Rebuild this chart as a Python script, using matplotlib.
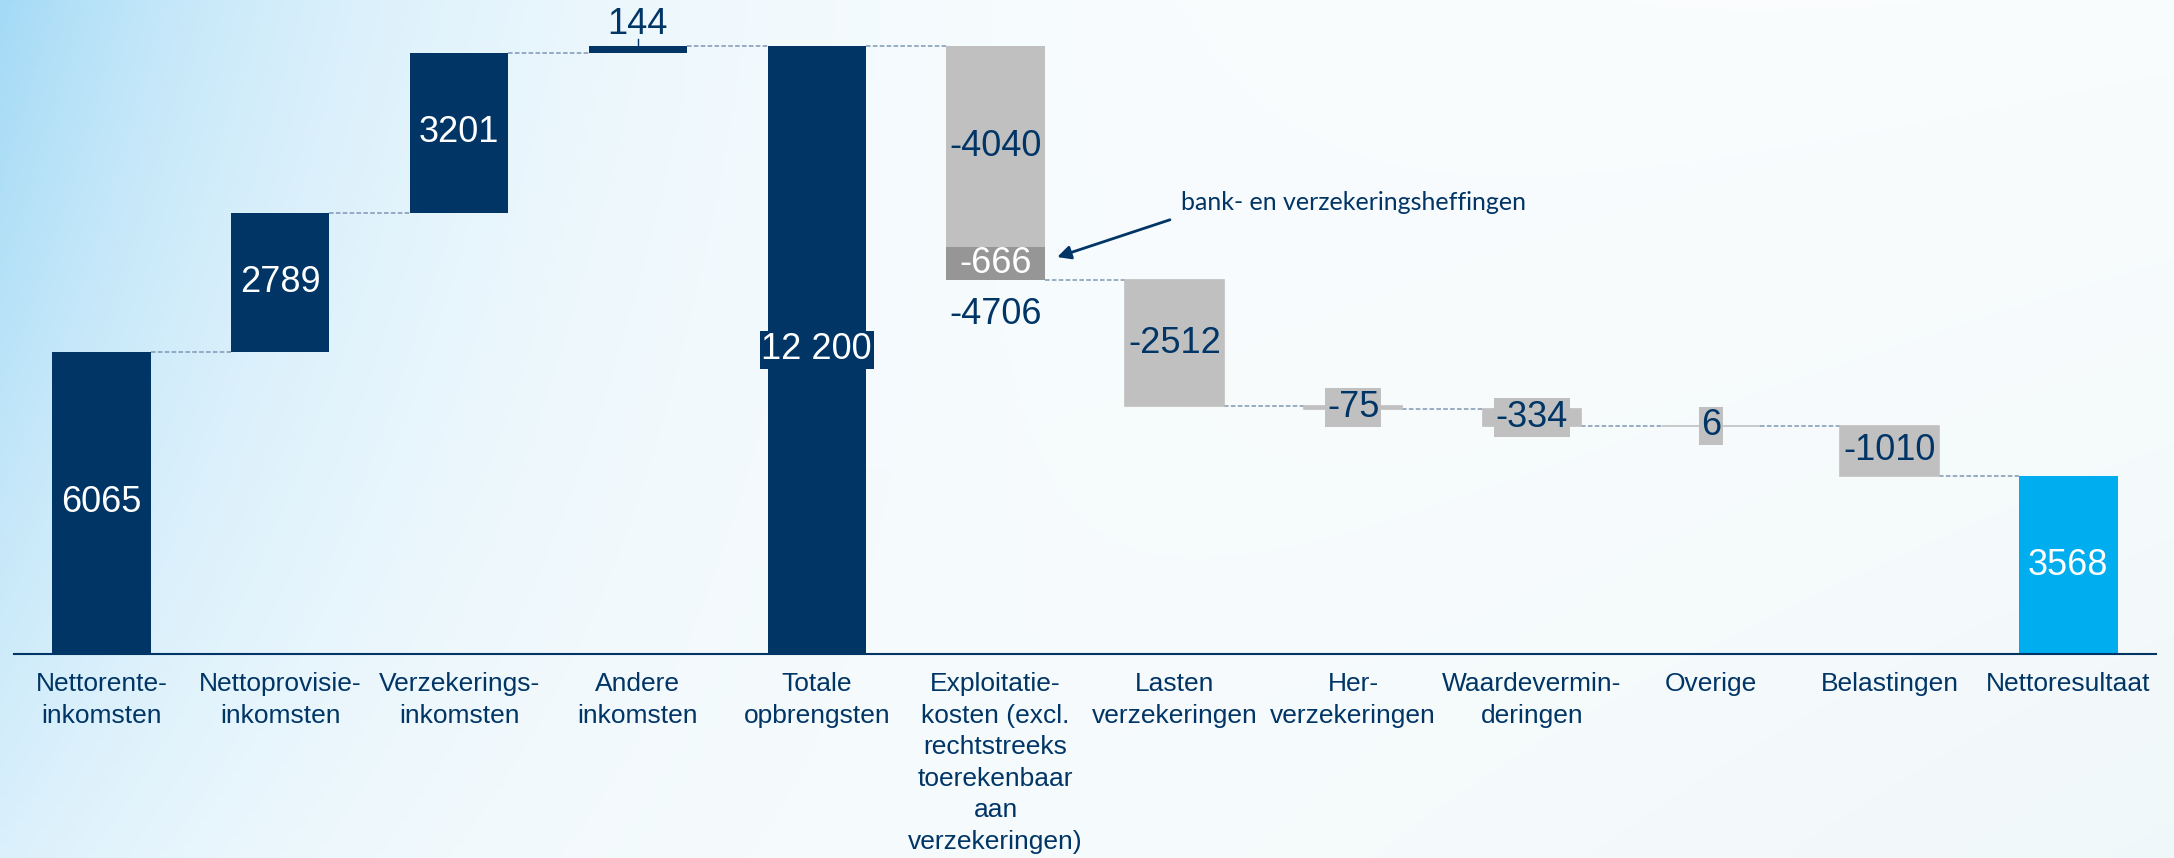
import numpy as np
import matplotlib.pyplot as plt

# categories and values (in million EUR)
categories = ['Nettorente-\ninkomsten', 'Nettoprovisie-\ninkomsten', 'Verzekerings-\ninkomsten',
              'Andere\ninkomsten', 'Totale\nopbrengsten',
              'Exploitatie-\nkosten (excl.\nrechtstreeks\ntoerekenbaar\naan\nverzekeringen)',
              'Lasten\nverzekeringen', 'Her-\nverzekeringen', 'Waardevermin-\nderingen',
              'Overige', 'Belastingen', 'Nettoresultaat']
values = [6065, 2789, 3201, 144, 12200, -4706, -2512, -75, -334, 6, -1010, 3568]
is_total = [False, False, False, False, True, False, False, False, False, False, False, True]
# split of the operating expenses bar
exploit_parts = [-4040, -666]
exploit_note = 'bank- en verzekeringsheffingen'

NAVY = '#003566'
CYAN = '#00AEEF'
LGRAY = '#C0C0C0'
DGRAY = '#969696'
DASH = '#7F97B3'
FONT = 'Liberation Sans'


def fmt(v):
    if abs(v) >= 10000:
        return f'{v:,}'.replace(',', ' ')
    return str(v)


fig = plt.figure(figsize=(21.74, 8.58), dpi=100)

# background gradient (light blue top-left, soft tint bottom-right)
bg = fig.add_axes([0, 0, 1, 1], zorder=0)
gx, gy = np.meshgrid(np.linspace(0, 2174, 544), np.linspace(0, 858, 215))
t1 = 0.85 * np.exp(-gx / 380) * (1 - 0.6 * gy / 858)
t2 = 0.28 * (gx / 2174) * (0.35 + 0.65 * gy / 858)
white = np.ones(3)
blue = np.array([0.58, 0.83, 0.96])
tint = np.array([0.80, 0.90, 0.93])
img = white + t1[..., None] * (blue - white) + t2[..., None] * (tint - white)
bg.imshow(np.clip(img, 0, 1), aspect='auto', extent=[0, 1, 0, 1], origin='upper')
bg.axis('off')

ax = fig.add_axes([0.0064, 0.2378, 0.9853, 0.7622], zorder=1)
ax.set_facecolor('none')

x = np.arange(len(categories))
w = 0.55
running = 0
levels = []
for i, v in enumerate(values):
    if is_total[i]:
        color = NAVY if i < len(values) - 1 else CYAN
        ax.bar(x[i], v, w, bottom=0, color=color, zorder=2)
        ax.text(x[i], v / 2, fmt(v), ha='center', va='center', color='white',
                fontsize=26, family=FONT, zorder=4,
                bbox=dict(boxstyle='square,pad=0.05', fc=color, ec='none'))
        running = v
    elif i == 5:
        top = running
        for part, c in zip(exploit_parts, [LGRAY, DGRAY]):
            ax.bar(x[i], part, w, bottom=top, color=c, zorder=2)
            ax.text(x[i], top + part / 2, fmt(part), ha='center', va='center',
                    color=NAVY if c == LGRAY else 'white', fontsize=26, family=FONT, zorder=4)
            top += part
        running += v
        ax.text(x[i], running - 690, fmt(v), ha='center', va='center', color=NAVY,
                fontsize=26, family=FONT, zorder=4)
    elif v > 0 and i < 4:
        ax.bar(x[i], v, w, bottom=running, color=NAVY, zorder=2)
        if v > 1000:
            ax.text(x[i], running + v / 2, fmt(v), ha='center', va='center', color='white',
                    fontsize=26, family=FONT, zorder=4)
        else:
            ax.plot([x[i], x[i]], [running + v, running + v + 130], color=NAVY, lw=1, zorder=3)
            ax.text(x[i], running + v + 430, fmt(v), ha='center', va='center', color=NAVY,
                    fontsize=26, family=FONT, zorder=4)
        running += v
    else:
        ax.bar(x[i], v, w, bottom=running, color=LGRAY, edgecolor=LGRAY, lw=1.2, zorder=2)
        ax.text(x[i], running + v / 2, fmt(v), ha='center', va='center', color=NAVY,
                fontsize=26, family=FONT, zorder=4,
                bbox=dict(boxstyle='square,pad=0.05', fc=LGRAY, ec='none'))
        running += v
    levels.append(running)

# dashed connectors
for i in range(len(values) - 1):
    ax.plot([x[i] + w / 2, x[i + 1] - w / 2], [levels[i], levels[i]], color=DASH,
            lw=1.1, linestyle=(0, (3, 1.5)), zorder=1)

# annotation for the levies
ax.annotate('', xy=(5.33, 7945), xytext=(5.99, 8728),
            arrowprops=dict(arrowstyle='-|>,head_length=0.8,head_width=0.4', color=NAVY, lw=2),
            zorder=5)
ax.text(6.035, 9050, exploit_note, ha='left', va='center', color=NAVY, fontsize=18,
        family='Lato', zorder=5)

ax.set_xlim(-0.49, 11.49)
ax.set_ylim(0, 13120)
ax.set_xticks(x)
ax.set_xticklabels(categories, fontsize=19, family=FONT, color=NAVY, linespacing=1.4)
ax.tick_params(axis='x', length=0, pad=13)
ax.set_yticks([])
for s in ['top', 'right', 'left']:
    ax.spines[s].set_visible(False)
ax.spines['bottom'].set_color(NAVY)
ax.spines['bottom'].set_linewidth(1.5)

fig.savefig('out.png', dpi=100)
